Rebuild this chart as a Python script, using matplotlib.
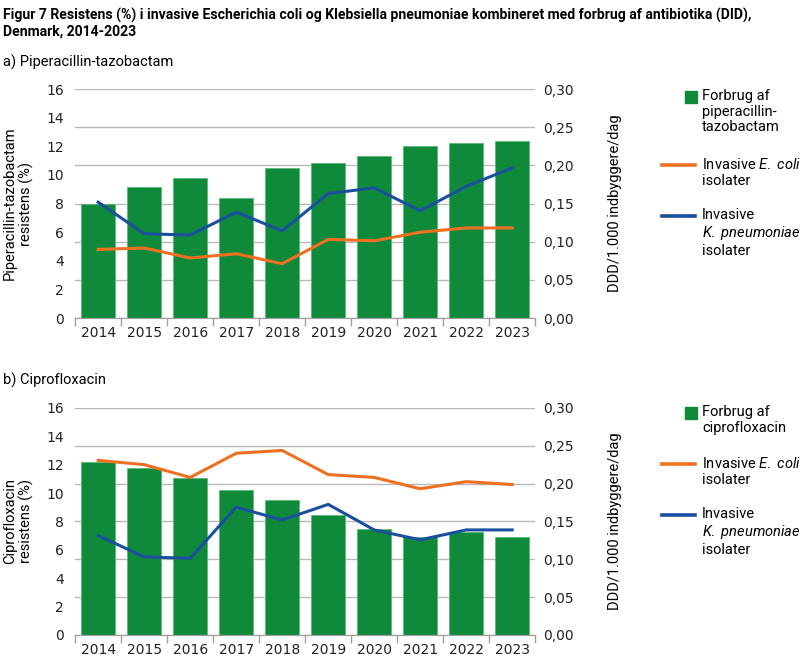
import matplotlib
matplotlib.use("Agg")
import matplotlib.pyplot as plt
import numpy as np
from matplotlib.lines import Line2D
from matplotlib.ticker import FuncFormatter, MultipleLocator

plt.rcParams['font.family'] = ['Roboto', 'DejaVu Sans']
plt.rcParams['mathtext.fontset'] = 'custom'
plt.rcParams['mathtext.it'] = 'Roboto:italic'
plt.rcParams['mathtext.rm'] = 'Roboto'

years = ['2014', '2015', '2016', '2017', '2018', '2019', '2020', '2021', '2022', '2023']

# a) Piperacillin-tazobactam
pip_forbrug = [0.150, 0.172, 0.183, 0.157, 0.196, 0.203, 0.212, 0.226, 0.230, 0.232]
pip_ecoli = [4.8, 4.9, 4.2, 4.5, 3.8, 5.5, 5.4, 6.0, 6.3, 6.3]
pip_kpneu = [8.1, 5.9, 5.8, 7.4, 6.1, 8.7, 9.1, 7.5, 9.2, 10.5]

# b) Ciprofloxacin
cip_forbrug = [0.228, 0.220, 0.207, 0.191, 0.178, 0.158, 0.140, 0.130, 0.136, 0.129]
cip_ecoli = [12.3, 12.0, 11.1, 12.8, 13.0, 11.3, 11.1, 10.3, 10.8, 10.6]
cip_kpneu = [7.0, 5.5, 5.4, 9.0, 8.1, 9.2, 7.4, 6.7, 7.4, 7.4]

GREEN = '#0e8a3a'
ORANGE = '#f07022'
BLUE = '#1a4f9e'
GRID = '#b8b8b8'

W, H = 800, 660
fig = plt.figure(figsize=(8, 6.6), dpi=100)

fig.text(0.004, 0.988, 'Figur 7 Resistens (%) i invasive Escherichia coli og Klebsiella pneumoniae kombineret med forbrug af antibiotika (DID),\nDenmark, 2014-2023',
         fontsize=10.1, fontweight='bold', va='top', ha='left', linespacing=1.15)
fig.text(0.004, 0.906, 'a) Piperacillin-tazobactam', fontsize=10.5, va='center')
fig.text(0.004, 0.424, 'b) Ciprofloxacin', fontsize=10.5, va='center')


def legend_entries(y0, drug):
    # y0: pixel row of the first legend line, from the top
    entries = [
        ('square', GREEN, 'Forbrug af\n' + drug),
        ('line', ORANGE, 'Invasive $E.$ $coli$\nisolater'),
        ('line', BLUE, 'Invasive\n$K.$ $pneumoniae$\nisolater'),
    ]
    y = y0
    for kind, col, lab in entries:
        fy = 1 - y / H
        if kind == 'square':
            fig.add_artist(Line2D([690.5 / W], [fy], marker='s', markersize=8.5, color=col,
                                  linestyle='none', transform=fig.transFigure))
        else:
            fig.add_artist(Line2D([662 / W, 695 / W], [fy, fy], color=col, linewidth=2.6,
                                  transform=fig.transFigure))
        fig.text(702 / W, 1 - (y - 8) / H, lab, fontsize=10.5, va='top', ha='left',
                 linespacing=1.15)
        y += 17 * (lab.count('\n') + 1) + 17


def panel(rect, forbrug, ecoli, kpneu, ylab):
    x = np.arange(len(years))
    axL = fig.add_axes(rect)
    axR = axL.twinx()
    axR.bar(x, forbrug, width=0.74, color=GREEN, edgecolor='#5cb97a', linewidth=0.6, zorder=2)
    axR.set_ylim(0, 0.30)
    axR.yaxis.set_major_locator(MultipleLocator(0.05))
    axR.yaxis.set_major_formatter(FuncFormatter(lambda v, p: ('%.2f' % v).replace('.', ',')))
    axR.grid(axis='y', color=GRID, linewidth=1.0, zorder=0)
    axR.set_axisbelow(True)

    axL.plot(x, ecoli, color=ORANGE, linewidth=2.2, zorder=3)
    axL.plot(x, kpneu, color=BLUE, linewidth=2.2, zorder=3)
    axL.set_ylim(0, 16)
    axL.yaxis.set_major_locator(MultipleLocator(2))
    axL.set_zorder(axR.get_zorder() + 1)
    axL.patch.set_visible(False)
    axL.set_xlim(-0.5, len(years) - 0.5)
    axL.set_xticks(x)
    axL.set_xticklabels(years)
    axL.set_xticks(np.arange(-0.5, len(years)), minor=True)
    axL.tick_params(axis='x', which='major', length=0, pad=6, labelsize=10, labelcolor='#222222')
    axL.tick_params(axis='x', which='minor', length=6, color='#a0a0a0', width=1)
    axL.tick_params(axis='y', length=0, labelsize=10, labelcolor='#222222', pad=8)
    axR.tick_params(axis='y', length=0, labelsize=10, labelcolor='#222222', pad=6)
    for lab in axL.get_xticklabels() + axL.get_yticklabels() + axR.get_yticklabels():
        lab.set_family('DejaVu Sans')

    for a in (axL, axR):
        for s in ('top', 'left', 'right'):
            a.spines[s].set_visible(False)
        a.spines['bottom'].set_color('#a0a0a0')

    axL.set_ylabel(ylab, fontsize=10.5, linespacing=1.15)
    axL.yaxis.set_label_coords(-0.089, 0.5)
    axR.set_ylabel('DDD/1.000 indbyggere/dag', fontsize=10.5)
    axR.yaxis.set_label_coords(1.159, 0.5)


panel([0.094, 0.518, 0.575, 0.347], pip_forbrug, pip_ecoli, pip_kpneu,
      'Piperacillin-tazobactam\nresistens (%)')
legend_entries(97, 'piperacillin-\ntazobactam')
panel([0.094, 0.038, 0.575, 0.344], cip_forbrug, cip_ecoli, cip_kpneu,
      'Ciprofloxacin\nresistens (%)')
legend_entries(413, 'ciprofloxacin')

fig.savefig('out.png', dpi=100)
